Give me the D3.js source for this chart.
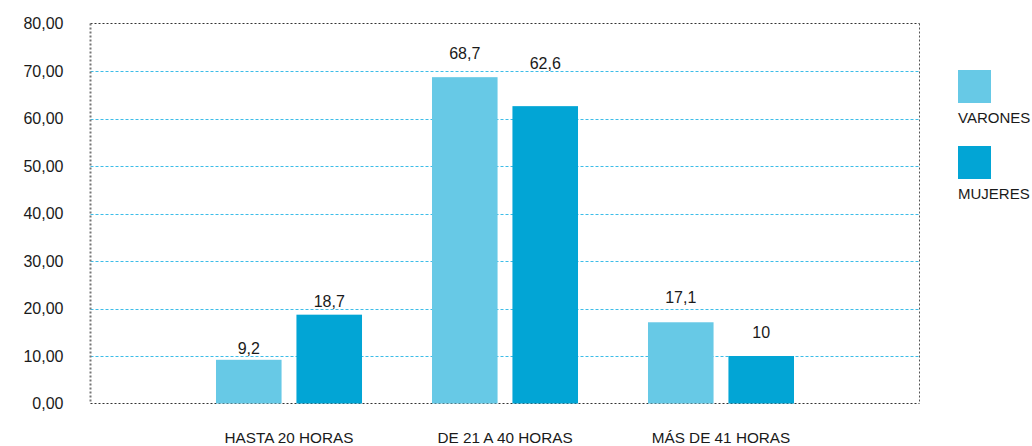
<!DOCTYPE html>
<html>
<head>
<meta charset="utf-8">
<script src="https://cdn.jsdelivr.net/npm/d3@7"></script>
<style>
  body { margin: 0; background: #fff; }
  svg text { font-family: "Liberation Sans", Arial, Helvetica, sans-serif; fill: #1a1a1a; }
</style>
</head>
<body>
<div id="main"></div>
<script>
(function(){

  const categories = ['HASTA 20 HORAS', 'DE 21 A 40 HORAS', 'MÁS DE 41 HORAS']
  const series = ['VARONES', 'MUJERES']
  const varones = [9.2, 68.7, 17.1]
  const mujeres = [18.7, 62.6, 10]
  const valueLabels = [['9,2', '18,7'], ['68,7', '62,6'], ['17,1', '10']]
  const yTicks = [0, 10, 20, 30, 40, 50, 60, 70, 80]

  // how far above each bar its label sits (px), as in the original
  const labelLift = [[6, 8], [18, 37], [19, 18]]

  const width = 1032
  const height = 446
  const margin = {
    top: 23.5,
    right: 112.5,
    bottom: 42.5,
    left: 90.5
  }
  const colors = ['#67c9e6', '#02a5d5']

  const locale = d3.formatLocale({ decimal: ',', thousands: '.', grouping: [3], currency: ['', '€'] })
  const fmt = locale.format('.2f')

  const data = categories.map((c, i) => ({
    category: c,
    values: [varones[i], mujeres[i]]
  }))

  const svg = d3.select('#main').append('svg')
    .attr('width', width)
    .attr('height', height)

  const x0 = d3.scaleBand()
    .domain(categories)
    .range([margin.left, width - margin.right])
    .paddingInner(0.324)
    .paddingOuter(0.581)

  const x1 = d3.scaleBand()
    .domain(series)
    .range([0, x0.bandwidth()])
    .paddingInner(0.185)

  const y = d3.scaleLinear()
    .domain([0, 80])
    .range([height - margin.bottom, margin.top])

  // grid lines
  svg.append('g')
    .selectAll('line')
    .data(yTicks.filter(t => t > 0 && t < 80))
    .join('line')
    .attr('x1', margin.left)
    .attr('x2', width - margin.right)
    .attr('y1', d => Math.round(y(d)) + 0.5)
    .attr('y2', d => Math.round(y(d)) + 0.5)
    .attr('stroke', '#3dbde8')
    .attr('stroke-width', 1)
    .attr('stroke-dasharray', '3,2')

  // dotted frame
  const frame = svg.append('g').attr('fill', 'none').attr('stroke-dasharray', '2,2')
  frame.append('line')
    .attr('x1', margin.left).attr('x2', width - margin.right)
    .attr('y1', y(80)).attr('y2', y(80))
    .attr('stroke', '#333')
  frame.append('line')
    .attr('x1', margin.left).attr('x2', width - margin.right)
    .attr('y1', y(0)).attr('y2', y(0))
    .attr('stroke', '#333')
  frame.append('line')
    .attr('x1', margin.left).attr('x2', margin.left)
    .attr('y1', y(80)).attr('y2', y(0))
    .attr('stroke', '#777').attr('stroke-width', 2)
  frame.append('line')
    .attr('x1', width - margin.right).attr('x2', width - margin.right)
    .attr('y1', y(80)).attr('y2', y(0))
    .attr('stroke', '#555')

  // y axis labels
  const yAxis = d3.axisLeft(y)
    .tickValues(yTicks)
    .tickFormat(fmt)
    .tickSize(0)
    .tickPadding(27)

  svg.append('g')
    .attr('transform', `translate(${margin.left},0)`)
    .call(yAxis)
    .call(g => g.select('.domain').remove())
    .call(g => g.selectAll('text').attr('font-size', 16).attr('font-family', null).attr('fill', '#1a1a1a'))

  // x axis labels
  const xAxis = d3.axisBottom(x0)
    .tickSize(0)
    .tickPadding(28.5)

  svg.append('g')
    .attr('transform', `translate(0,${height - margin.bottom})`)
    .call(xAxis)
    .call(g => g.select('.domain').remove())
    .call(g => g.selectAll('text').attr('font-size', 15.3).attr('font-family', null).attr('fill', '#1a1a1a'))

  // bars
  const groups = svg.append('g')
    .selectAll('g')
    .data(data)
    .join('g')
    .attr('transform', d => `translate(${x0(d.category)},0)`)

  groups.selectAll('rect')
    .data(d => d.values.map((v, j) => ({ key: series[j], value: v, j: j })))
    .join('rect')
    .attr('x', d => x1(d.key))
    .attr('y', d => y(d.value))
    .attr('width', x1.bandwidth())
    .attr('height', d => y(0) - y(d.value))
    .attr('fill', d => colors[d.j])

  groups.each(function(d, i) {
    d3.select(this).selectAll('text.val')
      .data(d.values)
      .join('text')
      .attr('class', 'val')
      .attr('x', (v, j) => x1(series[j]) + x1.bandwidth() / 2)
      .attr('y', (v, j) => y(v) - labelLift[i][j])
      .attr('text-anchor', 'middle')
      .attr('font-size', 16)
      .text((v, j) => valueLabels[i][j])
  })

  // legend
  const legend = svg.append('g')
    .attr('transform', 'translate(958,70)')

  const items = legend.selectAll('g')
    .data(series)
    .join('g')
    .attr('transform', (d, i) => `translate(0,${i * 76})`)

  items.append('rect')
    .attr('width', 33)
    .attr('height', 33)
    .attr('fill', (d, i) => colors[i])

  items.append('text')
    .attr('x', 0)
    .attr('y', 53)
    .attr('font-size', 15)
    .text(d => d)

}())
</script>
</body>
</html>
